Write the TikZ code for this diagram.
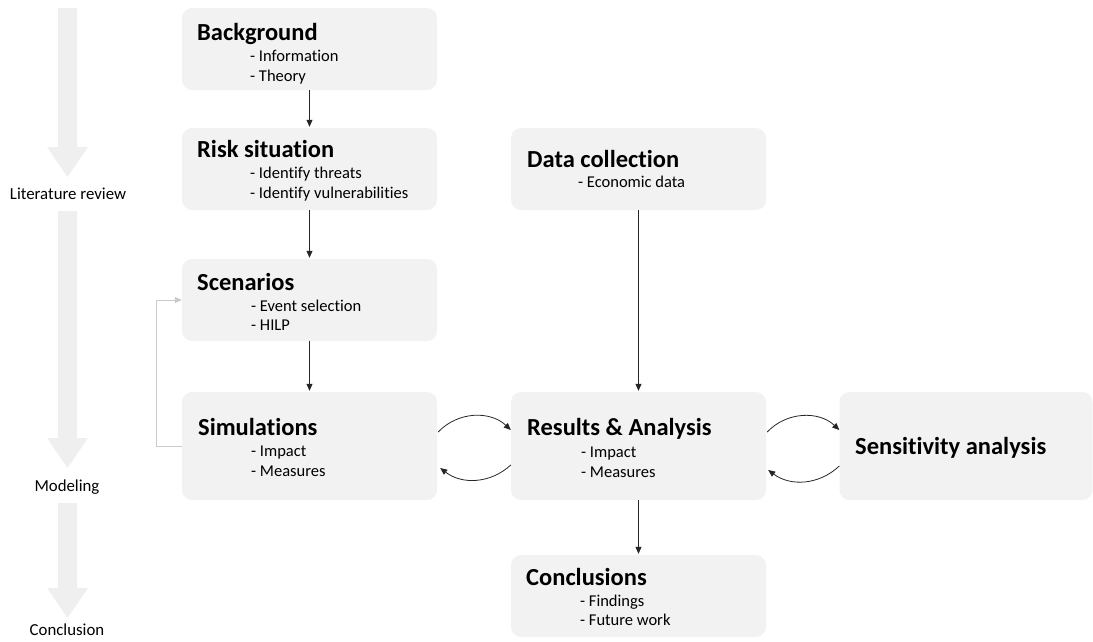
\documentclass[tikz,border=0pt]{standalone}
\usepackage{fontspec}
\setmainfont{Carlito}[Ligatures=CommonOff]
\usepackage{xcolor}
\usepackage{tikz}
\usetikzlibrary{positioning}
\usetikzlibrary{arrows.meta}
\pgfdeclarelayer{nodelayer}
\pgfdeclarelayer{edgelayer}
\pgfsetlayers{nodelayer,edgelayer,main}
\definecolor{boxgrey}{HTML}{F2F2F2}
\definecolor{phasegrey}{HTML}{EFEFEF}
\definecolor{loopgrey}{HTML}{CACACA}

\begin{document}
\begin{tikzpicture}[x=1pt, y=-1pt,
    box/.style={fill=boxgrey, rounded corners=10pt, minimum width=255pt, minimum height=82pt, inner sep=0pt},
    title/.style={anchor=base west, inner sep=0pt, font=\fontsize{24.5}{28}\selectfont\bfseries},
    item/.style={anchor=base west, inner sep=0pt, font=\fontsize{16.5}{19}\selectfont},
    phase/.style={anchor=base, inner sep=0pt, font=\fontsize{16.8}{19}\selectfont},
    flow/.style={-{Triangle[length=7pt,width=6pt]}, line width=0.8pt, black!85}]
  \useasboundingbox (0,0) rectangle (1093,641);
  \begin{pgfonlayer}{nodelayer}
    % phase arrows on the left
    \foreach \top/\neck/\tip in {8/147/177, 211/438/468, 503/588/618}
      \fill[phasegrey] (58,\top) -- (77,\top) -- (77,\neck) -- (88,\neck) -- (67.5,\tip) -- (47,\neck) -- (58,\neck) -- cycle;
    \node [box] (bg) at (309.5,49) {};
    \node [box] (risk) at (309.5,169) {};
    \node [box] (scen) at (309.5,300) {};
    \node [box, minimum height=108pt] (sim) at (309.5,446) {};
    \node [box] (data) at (638.5,169) {};
    \node [box, minimum height=108pt] (res) at (638.5,446) {};
    \node [box, minimum height=108pt, minimum width=253pt] (sens) at (966,446) {};
    \node [box] (concl) at (638.5,596) {};
  \end{pgfonlayer}
  \begin{pgfonlayer}{edgelayer}
    \draw [flow, shorten >=1pt] (bg) -- (risk);
    \draw [flow, shorten >=1pt] (risk) -- (scen);
    \draw [flow, shorten >=1pt] (scen) -- (sim);
    \draw [flow, shorten >=1pt] (data) -- (res);
    \draw [flow, shorten >=1pt] (res) -- (concl);
    \draw [flow] ([xshift=1pt,yshift=14pt]sim.east) to [bend left=45] ([yshift=16pt]res.west);
    \draw [flow] ([yshift=-19pt]res.west) to [bend left=40] ([xshift=3pt,yshift=-22pt]sim.east);
    \draw [flow] ([xshift=1pt,yshift=14pt]res.east) to [bend left=45] ([yshift=16pt]sens.west);
    \draw [flow] ([yshift=-20pt]sens.west) to [bend left=40] ([xshift=2pt,yshift=-24pt]res.east);
    \draw [-{Triangle[length=7pt,width=6pt]}, loopgrey, line width=0.8pt] (sim.west) -- ++(-25,0) |- (scen.west);
  \end{pgfonlayer}
  \node [phase] (litrev) at (68,199) {Literature review};
  \node [phase] (modeling) at (67,491) {Modeling};
  \node [phase] (conclusion) at (67,635) {Conclusion};
  \node [title] (bgT) at (197,40) {Background};
  \node [item] (bgA) at (250,61) {- Information};
  \node [item] (bgB) at (250,81) {- Theory};
  \node [title] (riskT) at (197,157) {Risk situation};
  \node [item] (riskA) at (250,178) {- Identify threats};
  \node [item] (riskB) at (250,198) {- Identify vulnerabilities};
  \node [title] (scenT) at (197,290) {Scenarios};
  \node [item] (scenA) at (251,311) {- Event selection};
  \node [item] (scenB) at (251,330) {- HILP};
  \node [title] (simT) at (198,435) {Simulations};
  \node [item] (simA) at (251,456) {- Impact};
  \node [item] (simB) at (251,476) {- Measures};
  \node [title] (dataT) at (527,167) {Data collection};
  \node [item] (dataA) at (578,187) {- Economic data};
  \node [title] (resT) at (527,435) {Results \& Analysis};
  \node [item] (resA) at (581,457) {- Impact};
  \node [item] (resB) at (581,477) {- Measures};
  \node [title] (sensT) at (855,454) {Sensitivity analysis};
  \node [title] (conclT) at (526,585) {Conclusions};
  \node [item] (conclA) at (580,606) {- Findings};
  \node [item] (conclB) at (580,625) {- Future work};
\end{tikzpicture}
\end{document}
